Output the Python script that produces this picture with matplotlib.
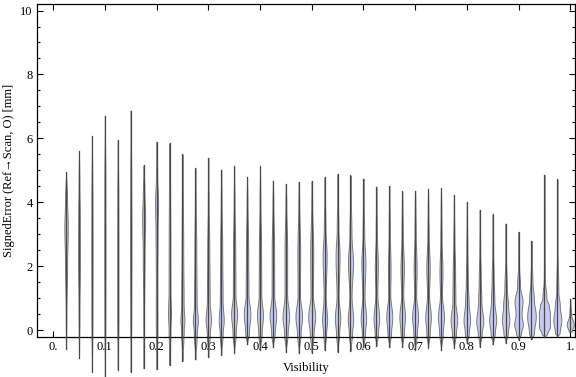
import numpy as np
import matplotlib
matplotlib.use('Agg')
import matplotlib.pyplot as plt
from matplotlib.ticker import MultipleLocator, FixedLocator

# visibility bins (centres)
visibility = [0.025 * k for k in range(1, 41)]

# whisker extents
err_max = [4.95, 5.60, 6.06, 6.71, 5.95, 6.87, 5.15, 5.89, 5.85, 5.50,
           5.07, 5.39, 5.02, 5.12, 4.78, 5.12, 4.67, 4.57, 4.64, 4.65,
           4.78, 4.88, 4.84, 4.74, 4.48, 4.51, 4.35, 4.36, 4.41, 4.44,
           4.23, 4.00, 3.76, 3.62, 3.33, 3.07, 2.79, 4.86, 4.72, 0.97]
err_min = [-0.60, -0.88, -1.31, -1.46, -1.25, -1.31, -1.20, -1.23, -1.10, -0.97,
           -0.92, -0.84, -0.78, -0.71, -0.45, -0.63, -0.54, -0.68, -0.71, -0.71,
           -0.63, -0.68, -0.65, -0.52, -0.50, -0.54, -0.52, -0.63, -0.57, -0.63,
           -0.57, -0.42, -0.52, -0.45, -0.40, -0.31, -0.29, -0.23, -0.19, -0.05]

# density profile of each violin: (error, relative density)
profiles = [
    [(0.5, 0.3), (2.0, 1.0), (3.2, 1.7), (4.2, 0.9)],
    [(0.5, 0.4), (2.2, 0.9), (3.5, 0.8), (4.5, 0.4)],
    [(0.5, 0.5), (2.5, 0.6), (4.0, 0.5)],
    [(0.5, 0.5), (2.5, 0.6), (4.5, 0.5)],
    [(0.5, 0.6), (2.5, 0.6), (4.0, 0.5)],
    [(0.5, 0.5), (3.0, 0.7), (4.5, 0.5)],
    [(0.5, 0.4), (2.5, 0.9), (3.5, 1.5), (4.4, 0.7)],
    [(0.3, 0.8), (1.5, 0.7), (3.0, 1.0), (4.0, 1.5), (4.8, 0.6)],
    [(0.0, 0.9), (0.5, 1.5), (1.2, 0.9), (3.0, 0.8), (4.0, 0.6)],
    [(0.0, 1.3), (0.3, 2.0), (0.8, 1.2), (2.5, 0.8), (4.0, 0.5)],
    [(-0.1, 1.5), (0.3, 2.5), (0.8, 1.3), (2.5, 0.9), (4.0, 0.4)],
    [(-0.1, 1.5), (0.3, 2.7), (0.9, 1.4), (2.5, 1.0), (4.0, 0.4)],
    [(-0.1, 1.5), (0.3, 2.5), (0.9, 1.4), (2.5, 1.0), (4.0, 0.4)],
    [(-0.1, 1.6), (0.5, 3.0), (1.1, 1.3), (2.5, 1.1), (4.0, 0.4)],
    [(-0.1, 1.8), (0.5, 3.3), (1.1, 1.4), (2.5, 1.1), (4.0, 0.4)],
    [(-0.1, 1.7), (0.45, 3.0), (1.1, 1.3), (2.5, 1.1), (4.0, 0.4)],
    [(-0.1, 1.8), (0.45, 3.3), (1.1, 1.3), (2.5, 1.2), (4.0, 0.4)],
    [(-0.1, 1.8), (0.4, 3.3), (1.1, 1.3), (2.5, 1.3), (4.0, 0.4)],
    [(-0.1, 1.8), (0.4, 3.3), (1.1, 1.2), (2.4, 1.4), (4.0, 0.4)],
    [(-0.1, 1.9), (0.4, 3.5), (1.1, 1.2), (2.4, 1.5), (4.0, 0.4)],
    [(-0.1, 1.5), (0.3, 2.5), (1.05, 1.0), (2.3, 2.0), (3.2, 0.8), (4.2, 0.3)],
    [(-0.1, 1.6), (0.35, 2.7), (1.05, 1.0), (2.3, 2.0), (3.2, 0.8), (4.2, 0.3)],
    [(-0.1, 1.6), (0.3, 2.7), (1.05, 1.1), (2.1, 2.5), (3.0, 1.0), (4.2, 0.3)],
    [(-0.1, 1.6), (0.35, 2.7), (1.05, 1.1), (2.1, 2.0), (3.0, 0.8), (4.0, 0.3)],
    [(-0.1, 1.7), (0.35, 2.8), (1.1, 1.0), (2.0, 1.5), (3.0, 0.6), (4.0, 0.3)],
    [(-0.1, 1.8), (0.4, 3.0), (1.1, 1.0), (1.9, 1.3), (3.0, 0.6), (4.0, 0.3)],
    [(-0.1, 1.7), (0.4, 2.8), (1.1, 1.0), (1.9, 1.7), (3.0, 0.6), (4.0, 0.3)],
    [(-0.1, 1.8), (0.4, 3.0), (1.1, 1.0), (1.9, 1.5), (3.0, 0.6), (4.0, 0.3)],
    [(-0.1, 1.7), (0.4, 2.8), (1.1, 1.0), (1.9, 1.7), (3.0, 0.6), (3.8, 0.3)],
    [(-0.1, 1.8), (0.4, 3.0), (1.1, 1.0), (1.8, 1.5), (2.8, 0.6), (3.8, 0.3)],
    [(-0.1, 2.0), (0.3, 3.3), (0.9, 1.5), (1.8, 1.2), (2.8, 0.5), (3.7, 0.2)],
    [(-0.1, 2.0), (0.3, 3.3), (0.85, 1.8), (1.5, 1.0), (2.5, 0.5), (3.5, 0.2)],
    [(-0.1, 2.0), (0.25, 3.5), (0.9, 1.6), (1.6, 1.0), (2.5, 0.4), (3.3, 0.2)],
    [(-0.1, 2.1), (0.3, 3.5), (0.9, 1.7), (1.6, 1.0), (2.5, 0.4), (3.2, 0.2)],
    [(-0.1, 2.2), (0.3, 3.7), (0.75, 2.5), (1.3, 1.2), (2.2, 0.4), (3.0, 0.2)],
    [(-0.1, 2.5), (0.16, 4.3), (0.5, 3.0), (0.9, 4.0), (1.35, 1.5), (2.0, 0.5), (2.7, 0.2)],
    [(-0.1, 2.5), (0.42, 4.3), (1.0, 2.3), (1.5, 1.0), (2.2, 0.3)],
    [(-0.1, 3.0), (0.1, 5.5), (0.52, 5.5), (0.75, 4.5), (1.0, 2.0), (1.6, 0.5), (3.0, 0.2)],
    [(-0.1, 2.3), (0.31, 4.0), (0.75, 2.5), (1.2, 1.0), (2.5, 0.3)],
    [(-0.05, 1.5), (0.16, 3.5), (0.5, 0.8)],
]

plt.rcParams['font.family'] = ['Liberation Serif', 'DejaVu Serif']

fig = plt.figure(figsize=(5.76, 3.77), dpi=100)
ax = fig.add_axes([0.064, 0.106, 0.935, 0.883])

w_scale = 0.025 / 12.93  # one density unit ~ one pixel of half width


def smooth_outline(ys, ws, n=12):
    # ease between the read knots so the outline has no corners
    out_y, out_w = [], []
    for i in range(len(ys) - 1):
        t = np.linspace(0, 1, n, endpoint=False)
        s = (1 - np.cos(np.pi * t)) / 2
        out_y.extend(ys[i] + (ys[i + 1] - ys[i]) * t)
        out_w.extend(ws[i] + (ws[i + 1] - ws[i]) * s)
    out_y.append(ys[-1])
    out_w.append(ws[-1])
    return np.array(out_y), np.array(out_w)


for x, lo, hi, prof in zip(visibility, err_min, err_max, profiles):
    ys = [lo] + [p[0] for p in prof] + [hi]
    ws = [0.0] + [p[1] for p in prof] + [0.0]
    yy, hw = smooth_outline(ys, ws)
    hw = hw * w_scale
    ax.fill_betweenx(yy, x - hw, x + hw, facecolor='#c6cbf4', edgecolor='#7a7a7a',
                     linewidth=0.7, clip_on=False, zorder=2)
    ax.plot([x, x], [lo, hi], color='#484848', linewidth=0.9, clip_on=False, zorder=3)

ax.set_xlim(-0.0315, 1.01)
ax.set_ylim(-0.22, 10.2)

ax.xaxis.set_major_locator(FixedLocator([i / 10 for i in range(11)]))
ax.set_xticklabels(['0.', '0.1', '0.2', '0.3', '0.4', '0.5', '0.6', '0.7', '0.8', '0.9', '1.'])
ax.yaxis.set_major_locator(MultipleLocator(2))
ax.yaxis.set_minor_locator(MultipleLocator(0.5))
ax.tick_params(which='both', direction='in', top=True, right=True, labelsize=9,
               width=0.8, colors='black', pad=3)
ax.tick_params(which='major', length=4)
ax.tick_params(which='minor', length=2)
for s in ax.spines.values():
    s.set_linewidth(0.9)

ax.set_xlabel('Visibility', fontsize=9, labelpad=6)
ax.set_ylabel('SignedError (Ref\u2192Scan, O) [mm]', fontsize=9, labelpad=4)

fig.savefig('out.png', dpi=100)
